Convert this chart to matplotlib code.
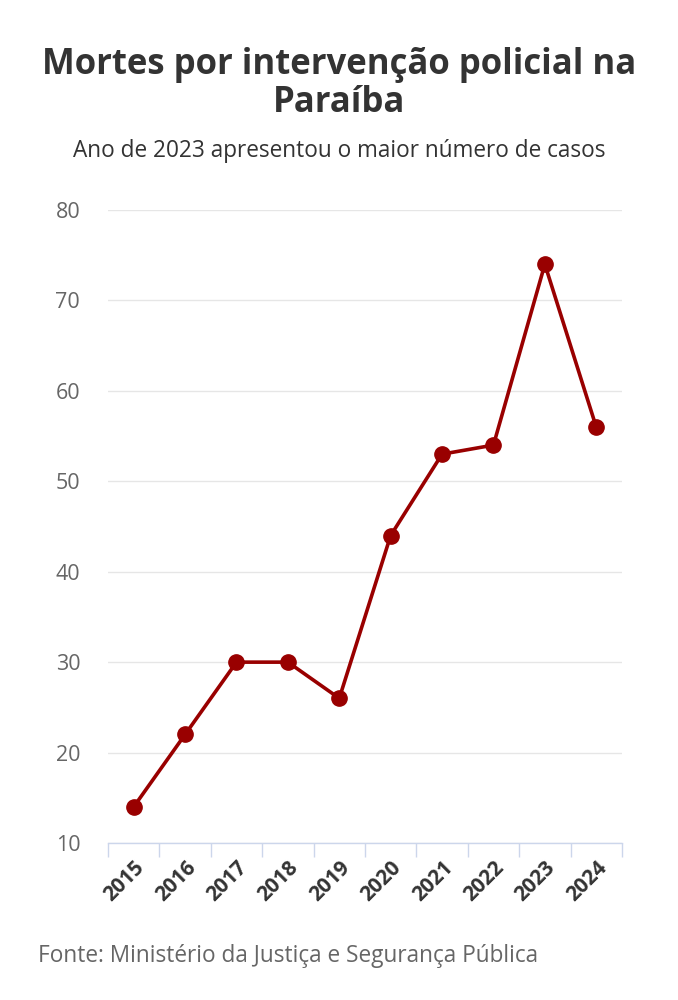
import matplotlib
matplotlib.use("Agg")
import matplotlib.pyplot as plt
import numpy as np

plt.rcParams['font.family'] = ['Open Sans', 'DejaVu Sans']

# dados
anos = ['2015', '2016', '2017', '2018', '2019', '2020', '2021', '2022', '2023', '2024']
mortes = [14, 22, 30, 30, 26, 44, 53, 54, 74, 56]
y_ticks = [10, 20, 30, 40, 50, 60, 70, 80]

fig = plt.figure(figsize=(6.78, 10), dpi=100)
ax = fig.add_axes([0.1593, 0.157, 0.758, 0.633])

x = np.arange(len(anos))
ax.plot(x, mortes, color='#990000', linewidth=2.6, marker='o',
        markersize=11, zorder=3, clip_on=False)

ax.set_xlim(-0.5, len(anos) - 0.5)
ax.set_ylim(10, 80)
ax.set_yticks(y_ticks)
ax.set_yticklabels([str(v) for v in y_ticks], fontsize=15.5, color='#666666')
ax.grid(axis='y', color='#e6e6e6', linewidth=1)
ax.set_axisbelow(True)

# x ticks nas bordas das categorias, rótulos no centro
ax.set_xticks(np.arange(len(anos) + 1) - 0.5)
ax.set_xticklabels([])
ax.set_xticks(x, minor=True)
ax.set_xticklabels(anos, minor=True, rotation=45, ha='right',
                   rotation_mode='anchor', fontsize=15, fontweight='bold',
                   color='#333333')
ax.tick_params(axis='x', which='major', length=10, width=1, color='#ccd6eb')
ax.tick_params(axis='x', which='minor', length=0, pad=10)
ax.tick_params(axis='y', length=0, pad=20)

for s in ['top', 'right', 'left']:
    ax.spines[s].set_visible(False)
ax.spines['bottom'].set_color('#ccd6eb')
ax.spines['bottom'].set_linewidth(1)

fig.text(0.5, 0.916, 'Mortes por intervenção policial na\nParaíba', ha='center',
         va='center', fontsize=25, fontweight='bold', color='#333333',
         linespacing=1.05)
fig.text(0.5, 0.849, 'Ano de 2023 apresentou o maior número de casos',
         ha='center', va='center', fontsize=16.3, color='#333333')
fig.text(0.056, 0.044, 'Fonte: Ministério da Justiça e Segurança Pública',
         ha='left', va='center', fontsize=16.3, color='#666666')

fig.savefig('out.png', dpi=100)
